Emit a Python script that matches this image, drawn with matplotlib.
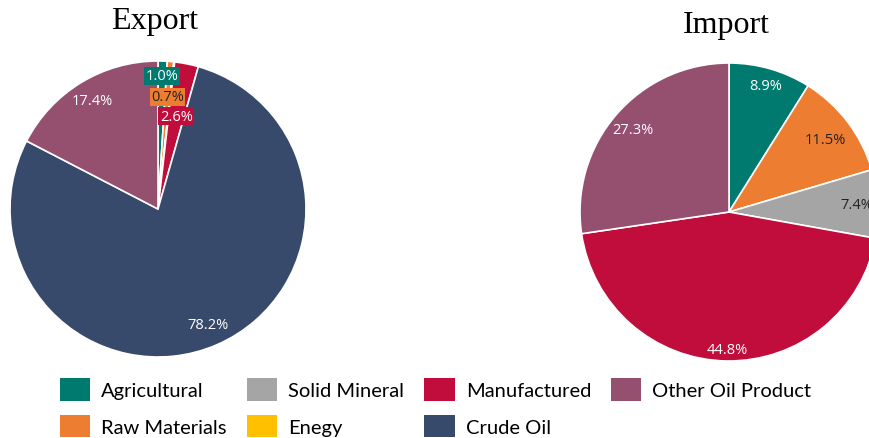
import numpy as np
import matplotlib.pyplot as plt
from matplotlib.patches import Patch

# Categories and colours
categories = ['Agricultural', 'Raw Materials', 'Solid Mineral', 'Enegy',
              'Manufactured', 'Crude Oil', 'Other Oil Product']
colors = ['#007a6e', '#ed7d31', '#a5a5a5', '#ffc000',
          '#c00d3b', '#374a6b', '#955070']

# Shares (%)
export_share = [1.0, 0.7, 0.05, 0.05, 2.6, 78.2, 17.4]
import_share = [8.9, 11.5, 7.4, 0.0, 44.8, 0.0, 27.3]

# label placement (fraction of radius)
export_dist = [0.90, 0.76, None, None, 0.64, 0.85, 0.86]
import_dist = [0.88, 0.81, 0.86, None, 0.92, None, 0.85]
dark_text = ['#ed7d31', '#a5a5a5', '#ffc000']

W, H = 870, 439
fig = plt.figure(figsize=(W / 100, H / 100), dpi=100)


def draw_pie(cx, cy, r, values, dists, title, title_y, boxed):
    ax = fig.add_axes([(cx - r) / W, (H - cy - r) / H, 2 * r / W, 2 * r / H])
    vals = [v for v in values if v > 0]
    cols = [c for v, c in zip(values, colors) if v > 0]
    ds = [d for v, d in zip(values, dists) if v > 0]
    wedges, _ = ax.pie(vals, colors=cols, startangle=90, counterclock=False,
                       wedgeprops=dict(edgecolor='white', linewidth=1.2))
    ax.set_xlim(-1, 1)
    ax.set_ylim(-1, 1)
    ax.set_aspect('equal')
    for w, v, c, d in zip(wedges, vals, cols, ds):
        if d is None:
            continue
        ang = np.deg2rad((w.theta1 + w.theta2) / 2)
        tc = '#222222' if c in dark_text else 'white'
        bbox = dict(boxstyle='square,pad=0.1', fc=c, ec='none') if boxed and v < 5 else None
        ax.text(d * np.cos(ang), d * np.sin(ang), f'{v:.1f}%', ha='center', va='center',
                fontsize=10.5, color=tc, family='Open Sans', bbox=bbox)
    fig.text(cx / W - 3 / W, 1 - title_y / H, title, ha='center', va='center',
             fontsize=23, family='Liberation Serif')


draw_pie(158, 210, 148, export_share, export_dist, 'Export', 22, True)
draw_pie(729, 213, 149, import_share, import_dist, 'Import', 25, False)

handles = [Patch(facecolor=c, edgecolor='none') for c in colors]
fig.legend(handles, categories, ncol=4, loc='lower left',
           bbox_to_anchor=(50 / W, -9.5 / H), frameon=False, borderpad=0,
           prop={'family': 'Lato', 'size': 14.5},
           handlelength=1.5, handleheight=1.35, handletextpad=0.55,
           columnspacing=1.0, labelspacing=0.7)

fig.savefig('out.png', dpi=100)
